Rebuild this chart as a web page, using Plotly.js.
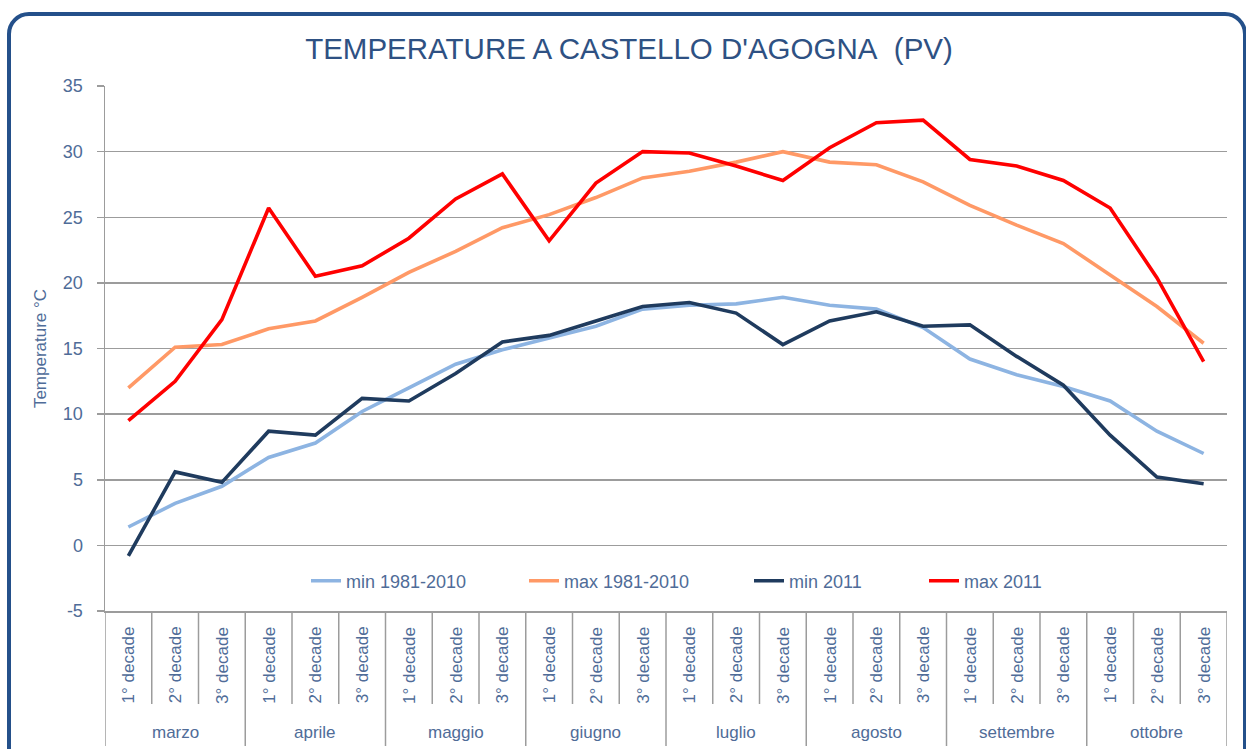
<!DOCTYPE html>
<html>
<head>
<meta charset="utf-8">
<script src="https://cdn.plot.ly/plotly-3.0.1.min.js"></script>
<style>
  html, body { margin: 0; padding: 0; overflow: hidden; background: #ffffff; }
  #chart { position: absolute; left: 0; top: 0; width: 1246px; height: 749px; }
  #frame { position: absolute; left: 7px; top: 12px; width: 1240px; height: 800px;
           box-sizing: border-box; border: 4px solid #24508A; border-radius: 22px;
           pointer-events: none; }
</style>
</head>
<body>
<div id="chart"></div>
<div id="frame"></div>
<script>
// ---- data ----
const months = ['marzo', 'aprile', 'maggio', 'giugno', 'luglio', 'agosto', 'settembre', 'ottobre'];
const decades = ['1° decade', '2° decade', '3° decade'];
const yTicks = [-5, 0, 5, 10, 15, 20, 25, 30, 35];

const min19812010 = [1.4, 3.2, 4.5, 6.7, 7.8, 10.2, 12.0, 13.8, 14.9, 15.8, 16.7, 18.0,
                     18.3, 18.4, 18.9, 18.3, 18.0, 16.6, 14.2, 13.0, 12.1, 11.0, 8.7, 7.0];
const max19812010 = [12.0, 15.1, 15.3, 16.5, 17.1, 18.9, 20.8, 22.4, 24.2, 25.2, 26.5, 28.0,
                     28.5, 29.2, 30.0, 29.2, 29.0, 27.7, 25.9, 24.4, 23.0, 20.6, 18.2, 15.4];
const min2011 = [-0.8, 5.6, 4.8, 8.7, 8.4, 11.2, 11.0, 13.1, 15.5, 16.0, 17.1, 18.2,
                 18.5, 17.7, 15.3, 17.1, 17.8, 16.7, 16.8, 14.4, 12.2, 8.4, 5.2, 4.7];
const max2011 = [9.5, 12.5, 17.2, 25.7, 20.5, 21.3, 23.4, 26.4, 28.3, 23.2, 27.6, 30.0,
                 29.9, 28.9, 27.8, 30.3, 32.2, 32.4, 29.4, 28.9, 27.8, 25.7, 20.4, 14.0];

// categories (month + decade)
const categories = [];
months.forEach(m => decades.forEach(d => categories.push(m + ' ' + d)));

const textColor = '#4F6C98';
const gridColor = '#9C9C9C';
const font = 'Liberation Sans, Arial, sans-serif';

const traces = [
  {name: 'min 1981-2010', y: min19812010, color: '#8DB4E2', legend: 'legend'},
  {name: 'max 1981-2010', y: max19812010, color: '#FF9966', legend: 'legend2'},
  {name: 'min 2011', y: min2011, color: '#1F3B5E', legend: 'legend3'},
  {name: 'max 2011', y: max2011, color: '#FF0000', legend: 'legend4'}
].map(t => ({
  type: 'scatter', mode: 'lines', name: t.name, x: categories, y: t.y,
  line: {color: t.color, width: 3.6}, legend: t.legend, hoverinfo: 'x+y+name'
}));

// paper helpers
const plotTop = 86, plotBottom = 611, plotH = plotBottom - plotTop;
const py = px => (plotBottom - px) / plotH;

const annotations = [];
const shapes = [];
categories.forEach((c, i) => {
  annotations.push({
    x: i, xref: 'x', y: py(665), yref: 'paper', text: decades[i % 3],
    textangle: -90, showarrow: false, xanchor: 'center', yanchor: 'middle',
    font: {family: font, size: 17, color: textColor}
  });
  if (i > 0 && i % 3 !== 0) {
    shapes.push({type: 'line', xref: 'x', yref: 'paper', x0: i - 0.5, x1: i - 0.5,
      y0: 0, y1: py(704), line: {color: gridColor, width: 1.5}});
  }
});
months.forEach((m, k) => {
  annotations.push({
    x: 3 * k + 1, xref: 'x', y: py(732), yref: 'paper', text: m,
    showarrow: false, xanchor: 'center', yanchor: 'middle',
    font: {family: font, size: 17, color: textColor}
  });
});
for (let k = 0; k <= months.length; k++) {
  shapes.push({type: 'line', xref: 'x', yref: 'paper', x0: 3 * k - 0.5, x1: 3 * k - 0.5,
    y0: 0, y1: py(746), line: {color: gridColor, width: 1.5}});
}

const plotLeft = 105, plotRight = 1227, plotW = plotRight - plotLeft;
const pxp = p => (p - plotLeft) / plotW;
const legendFont = {family: font, size: 18, color: textColor};
const legendBase = {orientation: 'h', xanchor: 'left', yanchor: 'middle', y: py(581),
  bgcolor: 'rgba(0,0,0,0)', font: legendFont, itemwidth: 30};

const layout = {
  width: 1246, height: 749,
  margin: {l: plotLeft, r: 1246 - plotRight, t: plotTop, b: 749 - plotBottom},
  paper_bgcolor: '#ffffff', plot_bgcolor: '#ffffff',
  title: {text: "TEMPERATURE A CASTELLO D'AGOGNA&nbsp;&nbsp;(PV)", xref: 'container', yref: 'container',
    x: 629 / 1246, y: 1 - 49 / 749, xanchor: 'center', yanchor: 'middle',
    font: {family: font, size: 29.5, color: '#2E5183'}},
  showlegend: true,
  legend: Object.assign({}, legendBase, {x: pxp(306)}),
  legend2: Object.assign({}, legendBase, {x: pxp(524)}),
  legend3: Object.assign({}, legendBase, {x: pxp(749)}),
  legend4: Object.assign({}, legendBase, {x: pxp(924)}),
  xaxis: {
    type: 'category', range: [-0.5, 23.5], showticklabels: false, ticks: '',
    showgrid: false, zeroline: false, showline: true, linecolor: gridColor, linewidth: 1.5,
    fixedrange: true
  },
  yaxis: {
    range: [-5, 35], tickvals: yTicks, ticktext: yTicks.map(String),
    showgrid: true, gridcolor: gridColor, gridwidth: 1.5, zeroline: false,
    showline: true, linecolor: gridColor, linewidth: 1.5,
    ticks: 'outside', ticklen: 7, tickcolor: gridColor, tickwidth: 1.5,
    ticklabelstandoff: 10,
    tickfont: {family: font, size: 18, color: textColor},
    title: {text: 'Temperature °C', standoff: 12, font: {family: font, size: 17, color: textColor}},
    fixedrange: true
  },
  annotations: annotations,
  shapes: shapes
};

Plotly.newPlot('chart', traces, layout, {displayModeBar: false, staticPlot: true});
</script>
</body>
</html>
